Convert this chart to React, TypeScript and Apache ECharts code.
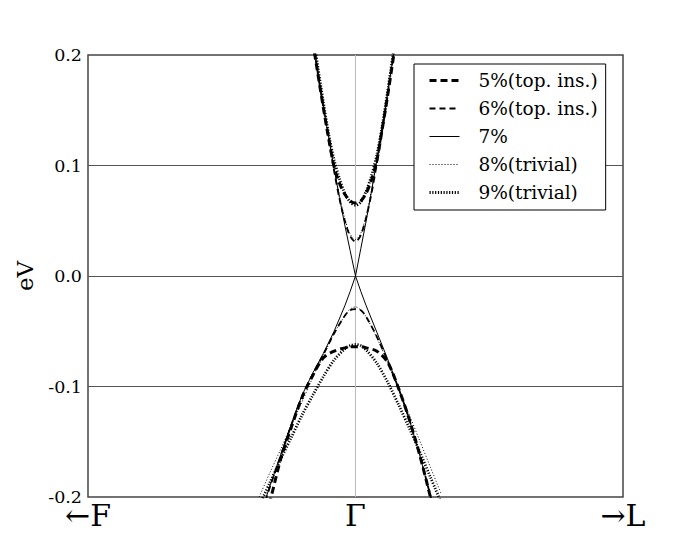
import React, { useEffect, useRef } from "react";
import * as echarts from "echarts";

// momentum grid (fraction of the path from Γ toward F (negative) or L (positive))
const kCond = [-0.16, -0.14, -0.12, -0.10, -0.08, -0.06, -0.04, -0.02, 0, 0.02, 0.04, 0.06, 0.08, 0.10, 0.12, 0.14, 0.16];
const kVal = [-0.36, -0.32, -0.28, -0.24, -0.20, -0.16, -0.12, -0.08, -0.04, -0.02, 0, 0.02, 0.04, 0.08, 0.12, 0.16, 0.20, 0.24, 0.28, 0.32];

const seriesNames = ["5%(top. ins.)", "6%(top. ins.)", "7%", "8%(trivial)", "9%(trivial)"];

// conduction band energies (eV) on kCond
const cond5 = [0.212, 0.182, 0.152, 0.124, 0.099, 0.084, 0.074, 0.068, 0.066, 0.068, 0.075, 0.087, 0.105, 0.133, 0.163, 0.195, 0.227];
const cond6 = [0.213, 0.182, 0.152, 0.123, 0.095, 0.070, 0.050, 0.036, 0.031, 0.037, 0.053, 0.075, 0.102, 0.132, 0.163, 0.196, 0.228];
const cond7 = [0.213, 0.183, 0.153, 0.125, 0.097, 0.071, 0.046, 0.023, 0.0, 0.025, 0.050, 0.077, 0.105, 0.135, 0.165, 0.197, 0.229];
const cond8 = [0.218, 0.186, 0.155, 0.126, 0.098, 0.073, 0.052, 0.038, 0.033, 0.039, 0.055, 0.078, 0.105, 0.135, 0.166, 0.199, 0.231];
const cond9 = [0.220, 0.188, 0.157, 0.128, 0.105, 0.088, 0.075, 0.067, 0.064, 0.067, 0.077, 0.091, 0.110, 0.136, 0.167, 0.200, 0.233];

// valence band energies (eV) on kVal
const val5 = [-0.235, -0.204, -0.166, -0.137, -0.110, -0.090, -0.074, -0.068, -0.065, -0.064, -0.064, -0.064, -0.065, -0.068, -0.078, -0.101, -0.129, -0.162, -0.200, -0.241];
const val6 = [-0.221, -0.191, -0.163, -0.135, -0.109, -0.089, -0.071, -0.052, -0.036, -0.031, -0.030, -0.031, -0.037, -0.055, -0.077, -0.101, -0.129, -0.162, -0.199, -0.240];
const val7 = [-0.220, -0.190, -0.162, -0.134, -0.108, -0.088, -0.070, -0.050, -0.027, -0.014, 0.0, -0.014, -0.027, -0.051, -0.075, -0.101, -0.129, -0.162, -0.199, -0.240];
const val8 = [-0.200, -0.178, -0.157, -0.135, -0.114, -0.092, -0.072, -0.052, -0.036, -0.030, -0.028, -0.031, -0.037, -0.056, -0.078, -0.102, -0.125, -0.149, -0.173, -0.197];
const val9 = [-0.208, -0.187, -0.166, -0.146, -0.126, -0.108, -0.091, -0.076, -0.066, -0.063, -0.062, -0.063, -0.067, -0.079, -0.096, -0.116, -0.137, -0.159, -0.182, -0.205];

const xTickLabels: Record<string, string> = { "-1": "\u2190F", "0": "\u0393", "1": "\u2192L" };
const yTicks = [-0.2, -0.1, 0.0, 0.1, 0.2];

const SERIF = "'DejaVu Serif', 'Liberation Serif', serif";

export default function App() {
  const ref = useRef<HTMLDivElement>(null);

  useEffect(() => {
    if (!ref.current) return;
    const chart = echarts.init(ref.current, undefined, { renderer: "svg" });

    const condSets = [cond5, cond6, cond7, cond8, cond9];
    const valSets = [val5, val6, val7, val8, val9];
    const styles = [
      { width: 3, type: [7, 4] as any },
      { width: 1.8, type: [6, 4] as any },
      { width: 1, type: "solid" as any },
      { width: 1, type: [1, 2] as any },
      { width: 2.8, type: [1.2, 1.6] as any },
    ];

    const series: any[] = [];
    seriesNames.forEach((name, i) => {
      const common = {
        type: "line",
        name,
        symbol: "none",
        showSymbol: false,
        clip: true,
        smooth: i === 2 ? false : 0.3,
        lineStyle: { color: "#000", width: styles[i].width, type: styles[i].type },
        itemStyle: { color: "#000" },
        z: 3,
      };
      series.push({ ...common, data: kCond.map((k, j) => [k, condSets[i][j]]) });
      series.push({ ...common, data: kVal.map((k, j) => [k, valSets[i][j]]) });
    });

    chart.setOption({
      animation: false,
      backgroundColor: "#fff",
      grid: {
        left: 88,
        right: 69,
        top: 55,
        bottom: 57,
        show: true,
        borderColor: "#444",
        borderWidth: 1.5,
        backgroundColor: "transparent",
        containLabel: false,
        outerBoundsMode: "none",
      },
      legend: {
        data: seriesNames.map((name, i) => ({
          name,
          lineStyle: { width: styles[i].width, type: styles[i].type, color: "#000", opacity: 1 },
        })),
        orient: "vertical",
        left: 414,
        top: 64,
        padding: [7, 8, 8, 14],
        itemGap: 9,
        itemWidth: 30,
        itemHeight: 18,
        backgroundColor: "#fff",
        borderColor: "#000",
        borderWidth: 1,
        borderRadius: 0,
        selectedMode: false,
        itemStyle: { opacity: 0, color: "rgba(0,0,0,0)", borderWidth: 0 },
        textStyle: { fontFamily: SERIF, fontSize: 18.5, color: "#000", padding: [0, 0, 0, 14] },
        z: 10,
      },
      xAxis: {
        type: "value",
        min: -1,
        max: 1,
        interval: 1,
        axisLine: { show: false },
        axisTick: { show: false },
        splitLine: { show: true, showMinLine: false, showMaxLine: false, lineStyle: { color: "#bbb", width: 1 } },
        axisLabel: {
          fontFamily: SERIF,
          fontSize: 30,
          color: "#000",
          margin: 3,
          formatter: (v: number) => xTickLabels[String(Math.round(v))] ?? "",
        },
      },
      yAxis: {
        type: "value",
        min: yTicks[0],
        max: yTicks[yTicks.length - 1],
        interval: 0.1,
        name: "eV",
        nameLocation: "middle",
        nameGap: 52,
        nameRotate: 90,
        nameTextStyle: { fontFamily: SERIF, fontSize: 23, color: "#000" },
        axisLine: { show: false },
        axisTick: { show: false },
        splitLine: { show: true, showMinLine: false, showMaxLine: false, lineStyle: { color: "#555", width: 1 } },
        axisLabel: {
          fontFamily: SERIF,
          fontSize: 17.5,
          color: "#000",
          margin: 6,
          formatter: (v: number) => (Math.abs(v) < 1e-9 ? "0.0" : v.toFixed(1)),
        },
      },
      series,
    });

    return () => chart.dispose();
  }, []);

  return (
    <div
      ref={ref}
      style={{ position: "fixed", left: 0, top: 0, width: 692, height: 554, background: "#fff" }}
    />
  );
}
